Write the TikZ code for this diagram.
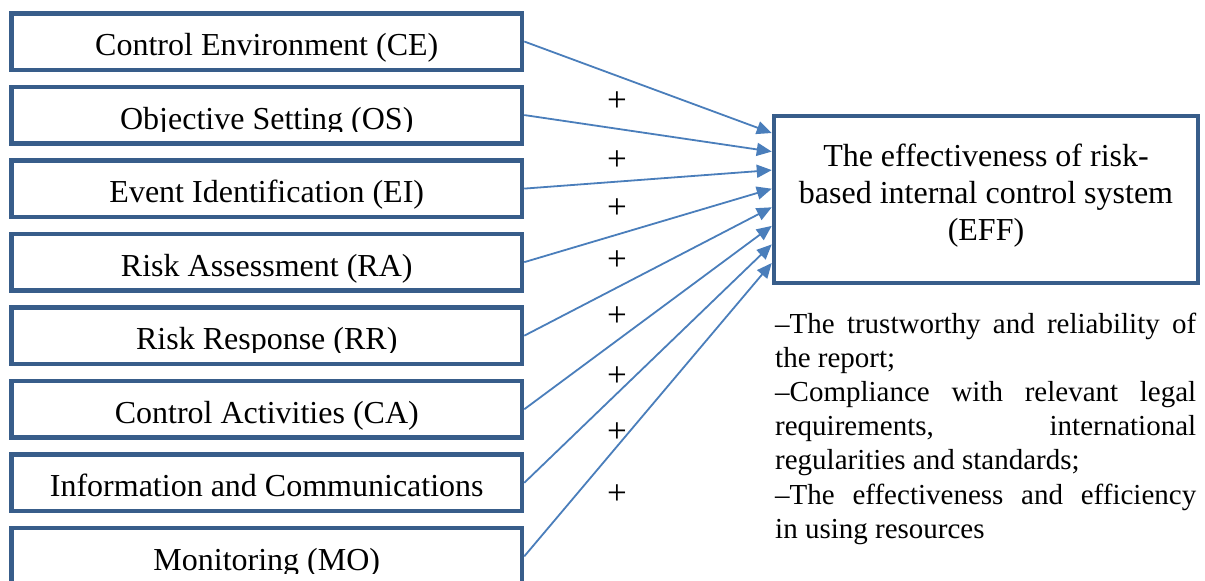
\documentclass[tikz,border=0pt]{standalone}
\usepackage{fontspec}
\setmainfont{Liberation Serif}
\usetikzlibrary{arrows.meta,calc}

\definecolor{boxline}{HTML}{385D8A}
\definecolor{arrowblue}{HTML}{4A7EBB}

% A factor box on the left: name, centre y, text baseline y,
% lower edge of the text area (text below it is cut off), label.
\newcommand\factorbox[5]{%
  \node[factor] (#1) at (266.75,#2) {};
  \begin{scope}
    \clip ([shift={(4.5,4.5)}]#1.north west) rectangle ([shift={(-4.5,0)}]#1.east |- 0,#4);
    \node[factortext] (#1-text) at (266.75,#3) {#5};
  \end{scope}}

% paragraph settings for the justified criteria list
\newcommand\criteriasetup{\tolerance=10000\relax\hbadness=10000\relax
  \hyphenpenalty=10000\relax\parskip=0pt\relax\parindent=0pt\relax}

\begin{document}
\begin{tikzpicture}[x=1pt,y=-1pt,
  factor/.style={draw=boxline, line width=4.5pt, fill=white,
    minimum width=510.5pt, minimum height=56.5pt, inner sep=0pt},
  factortext/.style={anchor=base, inner sep=0pt, font=\fontsize{32}{37}\selectfont},
  effbox/.style={draw=boxline, line width=4.5pt, fill=white,
    minimum width=424pt, minimum height=167pt, inner sep=0pt},
  efftext/.style={align=center, inner sep=0pt, font=\fontsize{32}{37}\selectfont},
  notes/.style={text width=421pt, align=justify, inner sep=0pt, anchor=base west,
    font=\fontsize{29}{34.2}\selectfont},
  link/.style={draw=arrowblue, line width=1.8pt, -{Triangle[length=15pt,width=13pt]}},
  plus/.style={inner sep=0pt, font=\fontsize{35}{35}\selectfont}]

\useasboundingbox (0,0) rectangle (1205,581);
\fill[white] (0,0) rectangle (1205,581);

% the eight components
\factorbox{ce}{41.5}{55.5}{70}{Control Environment (CE)}
\factorbox{os}{115.05}{129}{131.5}{Objective Setting (OS)}
\factorbox{ei}{188.6}{202.6}{217}{Event Identification (EI)}
\factorbox{ra}{262.15}{276.2}{290}{Risk Assessment (RA)}
\factorbox{rr}{335.7}{349.7}{352}{Risk Response (RR)}
\factorbox{ca}{409.25}{423.3}{437}{Control Activities (CA)}
\factorbox{ic}{482.8}{496.8}{510}{Information and Communications}
\factorbox{mo}{556.35}{570.4}{573}{Monitoring (MO)}

% the outcome
\node[effbox] (eff) at (986,199.5) {};
\node[efftext] (eff-text) at (986,196) {The effectiveness of risk-\\based internal control system\\(EFF)};

% links into the outcome box
\draw[link] (ce.east) -- ([shift={(0,-66.5)}]eff.west);
\draw[link] (os.east) -- ([shift={(0,-47.9)}]eff.west);
\draw[link] (ei.east) -- ([shift={(0,-29.4)}]eff.west);
\draw[link] (ra.east) -- ([shift={(0,-10.8)}]eff.west);
\draw[link] (rr.east) -- ([shift={(0,7.8)}]eff.west);
\draw[link] (ca.east) -- ([shift={(0,26.4)}]eff.west);
\draw[link] (ic.east) -- ([shift={(0,44.9)}]eff.west);
\draw[link] (mo.east) -- ([shift={(0,63.5)}]eff.west);

% signs of the relations
\node[plus] (s1) at (617,102) {+};
\node[plus] (s2) at (617,161) {+};
\node[plus] (s3) at (617,209) {+};
\node[plus] (s4) at (617,261) {+};
\node[plus] (s5) at (617,317) {+};
\node[plus] (s6) at (617,377) {+};
\node[plus] (s7) at (617,433) {+};
\node[plus] (s8) at (617,495) {+};

% criteria of effectiveness
\node[notes] (criteria) at (775,333) {\criteriasetup
\textendash The trustworthy and reliability of\linebreak the report;\par
\textendash Compliance with relevant legal\linebreak requirements, international\linebreak regularities and standards;\par
\textendash The effectiveness and efficiency\linebreak in using resources\par};
\end{tikzpicture}
\end{document}
